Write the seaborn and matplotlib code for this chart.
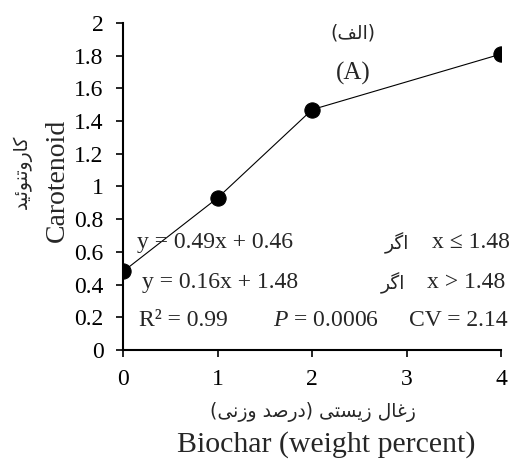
import matplotlib
matplotlib.use("Agg")
import matplotlib.pyplot as plt
import seaborn as sns
import pandas as pd

# data
biochar = [0, 1, 2, 4]
carotenoid = [0.48, 0.93, 1.47, 1.81]
x_ticks = [0, 1, 2, 3, 4]
y_ticks = [0, 0.2, 0.4, 0.6, 0.8, 1, 1.2, 1.4, 1.6, 1.8, 2]

# Persian strings (logical order) - shaped below since matplotlib does no Arabic shaping
fa_panel = "(الف)"
fa_ylabel = "کاروتنوئید"
fa_if = "اگر"
fa_xlabel = "زغال زیستی (درصد وزنی)"

# isolated, final, initial, medial
FORMS = {
    "ا": ("\uFE8D", "\uFE8E"),
    "ر": ("\uFEAD", "\uFEAE"),
    "ز": ("\uFEAF", "\uFEB0"),
    "د": ("\uFEA9", "\uFEAA"),
    "و": ("\uFEED", "\uFEEE"),
    "ل": ("\uFEDD", "\uFEDE", "\uFEDF", "\uFEE0"),
    "ف": ("\uFED1", "\uFED2", "\uFED3", "\uFED4"),
    "ک": ("\uFB8E", "\uFB8F", "\uFB90", "\uFB91"),
    "گ": ("\uFB92", "\uFB93", "\uFB94", "\uFB95"),
    "ت": ("\uFE95", "\uFE96", "\uFE97", "\uFE98"),
    "ن": ("\uFEE5", "\uFEE6", "\uFEE7", "\uFEE8"),
    "ئ": ("\uFE89", "\uFE8A", "\uFE8B", "\uFE8C"),
    "ی": ("\uFBFC", "\uFBFD", "\uFBFE", "\uFBFF"),
    "غ": ("\uFECD", "\uFECE", "\uFECF", "\uFED0"),
    "س": ("\uFEB1", "\uFEB2", "\uFEB3", "\uFEB4"),
    "ص": ("\uFEB9", "\uFEBA", "\uFEBB", "\uFEBC"),
}
MIRROR = {"(": ")", ")": "("}


def shape(s):
    out = []
    for i, ch in enumerate(s):
        f = FORMS.get(ch)
        if f is None:
            out.append(MIRROR.get(ch, ch))
            continue
        prev = s[i - 1] if i > 0 else ""
        nxt = s[i + 1] if i + 1 < len(s) else ""
        jp = prev in FORMS and len(FORMS[prev]) == 4
        jn = len(f) == 4 and nxt in FORMS
        if jp and jn:
            out.append(f[3])
        elif jp:
            out.append(f[1])
        elif jn:
            out.append(f[2])
        else:
            out.append(f[0])
    return "".join(reversed(out))


sns.set_theme(style="ticks")
plt.rcParams["font.family"] = ["Liberation Serif", "DejaVu Sans"]
plt.rcParams["mathtext.fontset"] = "custom"
plt.rcParams["mathtext.it"] = "Liberation Serif:italic"
plt.rcParams["mathtext.rm"] = "Liberation Serif"
FA = ["DejaVu Sans"]
FS_TICK = 17
FS_NOTE = 17
FS_LAB = 21.5
FS_FA = 13.5

df = pd.DataFrame({"Biochar": biochar, "Carotenoid": carotenoid})

fig = plt.figure(figsize=(5.13, 4.59), dpi=100)
ax = fig.add_axes([0.24, 0.2375, 0.737, 0.7125])

sns.lineplot(data=df, x="Biochar", y="Carotenoid", ax=ax, color="black",
             linewidth=0.8, marker="o", markersize=11, markeredgecolor="black")

ax.set_xlim(0, 4)
ax.set_ylim(0, 2)
ax.set_xticks(x_ticks)
ax.set_yticks(y_ticks)
ax.set_yticklabels([f"{v:g}" for v in y_ticks])
ax.tick_params(labelsize=FS_TICK, length=5, width=1.2, color="black", labelcolor="black")
ax.tick_params(axis="y", pad=9)
ax.tick_params(axis="x", pad=9)
for sp in ["left", "bottom"]:
    ax.spines[sp].set_linewidth(1.5)
    ax.spines[sp].set_color("black")
sns.despine(ax=ax)
ax.set_xlabel("")
ax.set_ylabel("")

# annotations
ax.text(2.43, 1.94, shape(fa_panel), family=FA, fontsize=FS_FA, ha="center", va="center")
ax.text(2.43, 1.69, "(A)", fontsize=18, ha="center", va="center")
ax.text(0.15, 0.655, "y = 0.49x + 0.46", fontsize=FS_NOTE, ha="left", va="center")
ax.text(2.9, 0.655, shape(fa_if), family=FA, fontsize=FS_FA, ha="center", va="center")
ax.text(4.09, 0.655, "x ≤ 1.48", fontsize=FS_NOTE, ha="right", va="center")
ax.text(0.2, 0.41, "y = 0.16x + 1.48", fontsize=FS_NOTE, ha="left", va="center")
ax.text(2.85, 0.41, shape(fa_if), family=FA, fontsize=FS_FA, ha="center", va="center")
ax.text(4.04, 0.41, "x > 1.48", fontsize=FS_NOTE, ha="right", va="center")
ax.text(0.17, 0.18, "R² = 0.99", fontsize=FS_NOTE, ha="left", va="center")
ax.text(1.59, 0.18, "$P$ = 0.0006", fontsize=FS_NOTE, ha="left", va="center")
ax.text(4.07, 0.18, "CV = 2.14", fontsize=FS_NOTE, ha="right", va="center")

# axis titles
fig.text(57 / 513, 1 - 180 / 459, "Carotenoid", fontsize=FS_LAB - 1.5, rotation=90,
         ha="center", va="center")
fig.text(22 / 513, 1 - 172 / 459, shape(fa_ylabel), family=FA, fontsize=FS_FA,
         rotation=90, ha="center", va="center")
fig.text(313 / 513, 1 - 412 / 459, shape(fa_xlabel), family=FA, fontsize=FS_FA,
         ha="center", va="center")
fig.text(326 / 513, 1 - 445 / 459, "Biochar (weight percent)", fontsize=FS_LAB,
         ha="center", va="center")

fig.savefig("out.png", dpi=100)
